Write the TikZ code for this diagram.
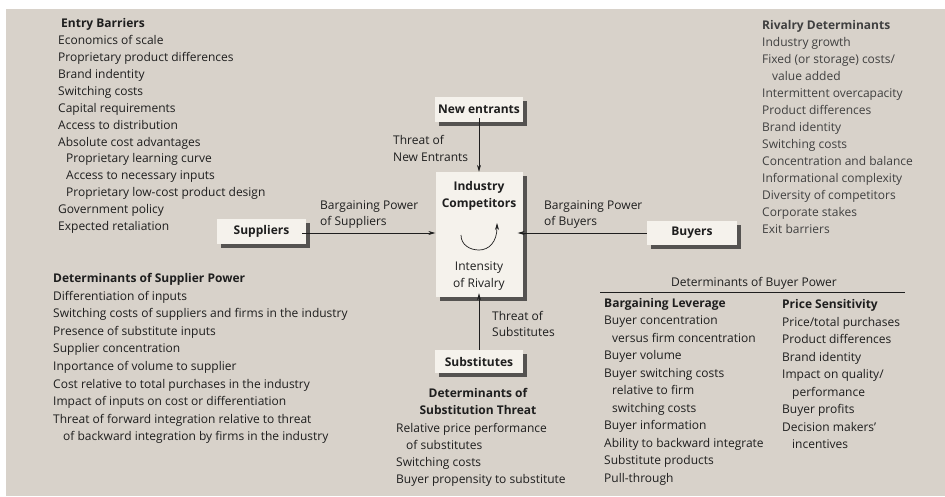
\documentclass[tikz,border=0pt]{standalone}
\usepackage{fontspec}
\setmainfont{Open Sans}
\usetikzlibrary{arrows.meta,shadows}
\definecolor{paper}{HTML}{D8D2CA}
\definecolor{boxfill}{HTML}{F5F2EC}
\definecolor{shade}{HTML}{555351}
\definecolor{ink}{HTML}{1E1E1E}

\begin{document}
\begin{tikzpicture}[x=1pt,y=-1pt,>={Stealth[length=7pt,width=4pt]}]

	% Styles
	\tikzstyle{txt} = [inner sep=0pt,align=left,anchor=west,text=ink,font=\fontsize{12}{16.9}\selectfont]
	\tikzstyle{box} = [fill=boxfill,text=ink,inner sep=0pt,font=\fontsize{12}{14}\selectfont\bfseries,minimum width=88pt,minimum height=25pt,drop shadow={shadow xshift=4pt,shadow yshift=-4pt,fill=shade,opacity=1}]
	\tikzstyle{pfeil} = [draw=ink,line width=0.7pt,->]

	% Hintergrund
	\useasboundingbox (0,0) rectangle (945,496);
	\fill[white] (0,0) rectangle (945,496);
	\fill[paper] (6,9) rectangle (945,496);

	% Kraefte
	\node at (479,234.5) [box,minimum width=87pt,minimum height=125pt] (ind) {};
	\node at (479,109.5) [box] (new) {New entrants};
	\node at (261.5,231) [box,minimum width=89pt] (sup) {Suppliers};
	\node at (692,233) [box,minimum width=90pt,minimum height=24pt] (buy) {Buyers};
	\node at (479,361.5) [box,minimum height=23pt] (sub) {Substitutes};

	% Texte im Kasten
	\node at (479,195.5) [txt,anchor=center,align=center,font=\fontsize{12}{16.9}\selectfont\bfseries] (comp) {Industry\\Competitors};
	\node at (479,276) [txt,anchor=center,align=center] (rival) {Intensity\\of Rivalry};
	\draw[pfeil] (461,235) .. controls (461,245) and (470,250) .. (479,250)
		.. controls (489,250) and (497,242) .. (497,223);

	% Pfeile
	\draw[pfeil,shorten <=-4pt] (new) -- (ind);
	\draw[pfeil,shorten <=-4pt] (sup.east |- buy.west) -- (ind.west |- buy.west);
	\draw[pfeil,shorten >=-5pt] (buy) -- (ind.east |- buy.west);
	\draw[pfeil,shorten >=-4pt] (sub) -- (ind);

	% Labels Pfeile
	\node at (393,148.5) [txt] (tne) {Threat of\\New Entrants};
	\node at (320,214.5) [txt] (bps) {Bargaining Power\\of Suppliers};
	\node at (544,214.5) [txt] (bpb) {Bargaining Power\\of Buyers};
	\node at (492,324) [txt] (tos) {Threat of\\Substitutes};

	% Entry Barriers
	\node at (58,126) [txt] (entry) {\hspace*{3pt}\textbf{Entry Barriers}\\Economics of scale\\Proprietary product differences\\Brand indentity\\Switching costs\\Capital requirements\\Access to distribution\\Absolute cost advantages\\\hspace*{8pt}Proprietary learning curve\\\hspace*{8pt}Access to necessary inputs\\\hspace*{8pt}Proprietary low-cost product design\\Government policy\\Expected retaliation};

	% Rivalry Determinants
	\node at (762,127) [txt,text=ink!85,font=\fontsize{12}{17}\selectfont] (riv) {\textbf{Rivalry Determinants}\\Industry growth\\Fixed (or storage) costs/\\\hspace*{10pt}value added\\Intermittent overcapacity\\Product differences\\Brand identity\\Switching costs\\Concentration and balance\\Informational complexity\\Diversity of competitors\\Corporate stakes\\Exit barriers};

	% Supplier Power
	\node at (53,358.5) [txt,font=\fontsize{12}{17.6}\selectfont] (spow) {\textbf{Determinants of Supplier Power}\\Differentiation of inputs\\Switching costs of suppliers and firms in the industry\\Presence of substitute inputs\\Supplier concentration\\Inportance of volume to supplier\\Cost relative to total purchases in the industry\\Impact of inputs on cost or differentiation\\Threat of forward integration relative to threat\\\hspace*{10pt}of backward integration by firms in the industry};

	% Substitution Threat
	\node at (478,401.5) [txt,anchor=center,align=center,font=\fontsize{12}{16.9}\selectfont\bfseries] (sdet) {Determinants of\\Substitution Threat};
	\node at (396,454.5) [txt] (slist) {Relative price performance\\\hspace*{10pt}of substitutes\\Switching costs\\Buyer propensity to substitute};

	% Buyer Power
	\node at (754,283) [txt,anchor=center] (bpow) {Determinants of Buyer Power};
	\draw[ink,line width=0.7pt] (600,292) -- (905,292);
	\node at (604,391.5) [txt,font=\fontsize{12}{17.5}\selectfont] (lev) {\textbf{Bargaining Leverage}\\Buyer concentration\\\hspace*{8pt}versus firm concentration\\Buyer volume\\Buyer switching costs\\\hspace*{8pt}relative to firm\\\hspace*{8pt}switching costs\\Buyer information\\Ability to backward integrate\\Substitute products\\Pull-through};
	\node at (782,374) [txt,font=\fontsize{12}{17.5}\selectfont] (sens) {\textbf{Price Sensitivity}\\Price/total purchases\\Product differences\\Brand identity\\Impact on quality/\\\hspace*{10pt}performance\\Buyer profits\\Decision makers'\\\hspace*{10pt}incentives};

\end{tikzpicture}
\end{document}
